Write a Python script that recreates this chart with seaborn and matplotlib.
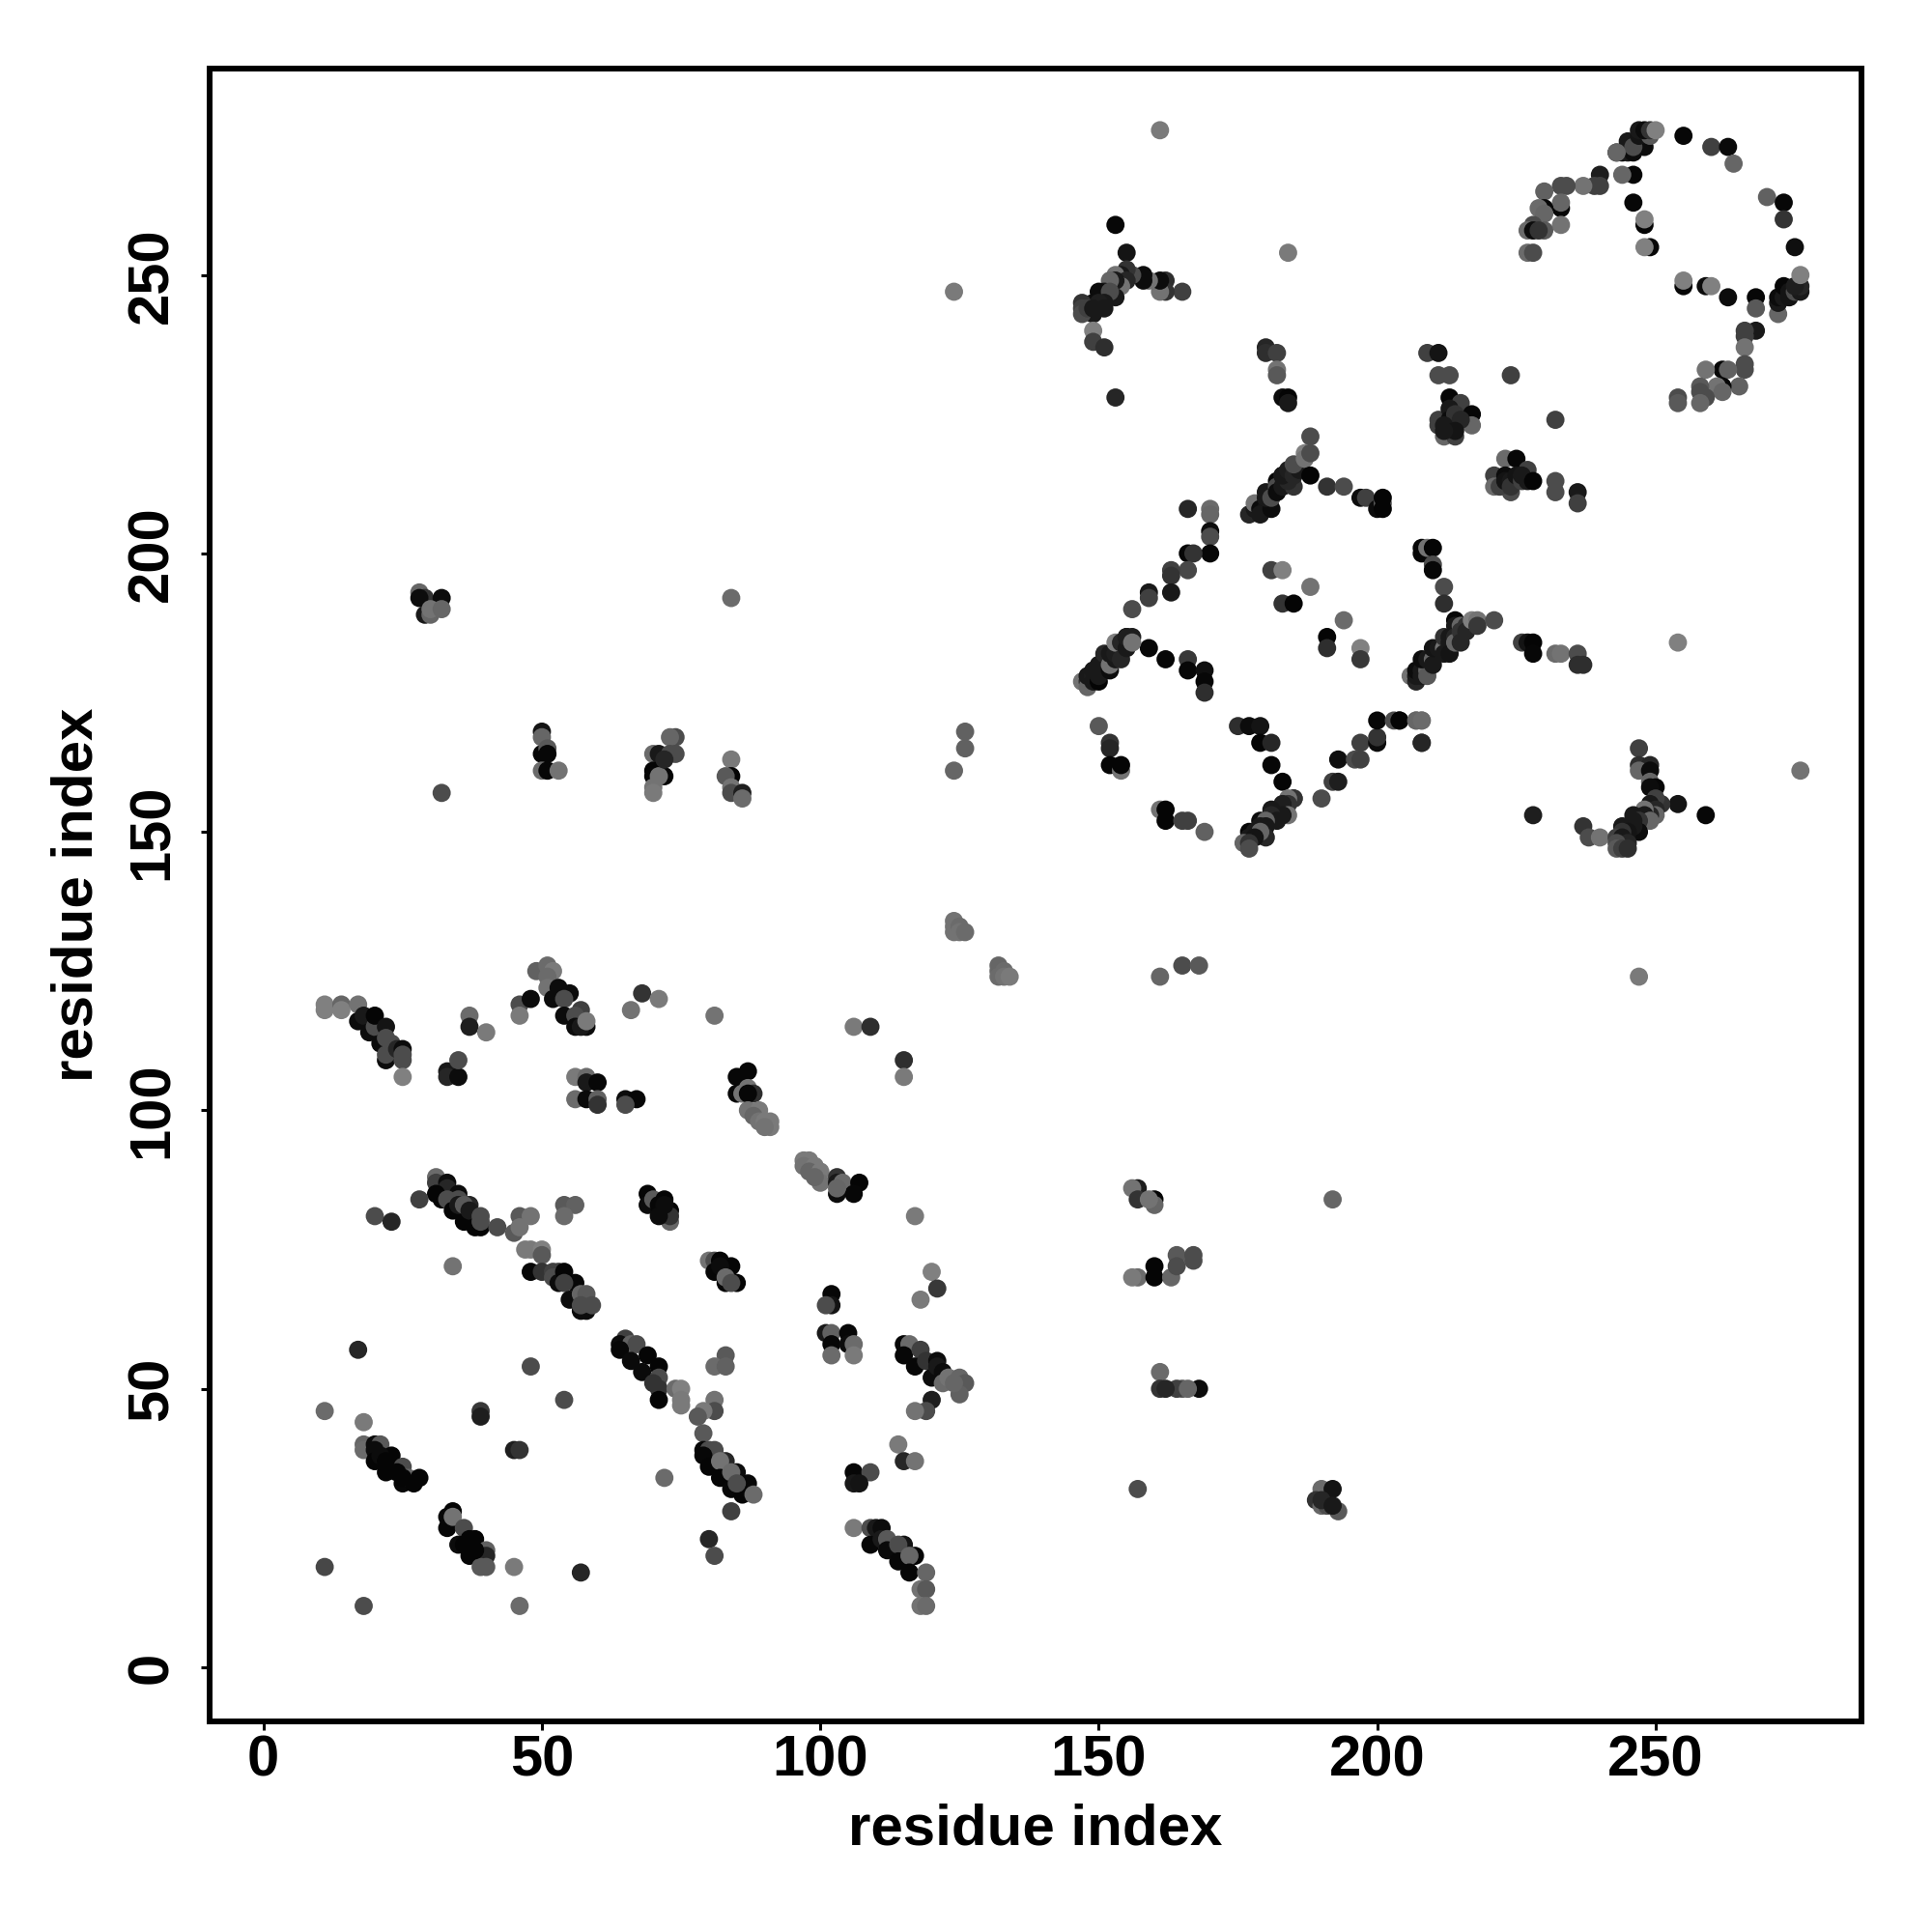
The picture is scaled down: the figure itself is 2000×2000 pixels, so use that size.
import matplotlib
matplotlib.use("Agg")
import matplotlib.pyplot as plt
import pandas as pd
import seaborn as sns

# contacts, grouped by region of the map
ring_x = [243,244,245,246,245,247,248,246,247,249,247,248,249,250,255,260,263,264,270,273,273,275,272,272,272,273,273,274,274,275,276,276,275,276,268,268,263,259,260,255,255,248,249,248,248,246,246,244,240,240,239,237,234,233,230,233,233,230,229,230,233,228,230,227,228,229,227,228]
ring_y = [272,272,272,272,274,274,273,273,275,275,276,276,276,276,275,273,273,270,264,263,260,255,243,245,246,246,248,246,247,247,247,248,248,250,246,244,246,248,248,248,249,259,255,255,260,263,268,268,268,266,266,266,266,266,265,262,263,262,262,261,259,259,258,258,258,258,254,254]
ring_s = [.05,.05,.1,.05,.1,.2,.05,.3,.08,.35,.1,.05,.2,.5,.03,.25,.04,.4,.38,.03,.2,.06,.4,.1,.05,.1,.03,.08,.08,.3,.1,.15,.12,.5,.03,.35,.05,.05,.5,.03,.5,.02,.03,.5,.5,.03,.03,.4,.12,.25,.25,.45,.3,.3,.38,.03,.4,.03,.42,.4,.45,.3,.35,.42,.05,.2,.42,.3]

ring_low_x = [268,266,266,266,266,266,265,262,263,259,262,261,262,258,259,258,258,254,254,243]
ring_low_y = [240,240,239,237,234,233,230,233,233,233,230,230,229,230,228,229,227,228,227,272]
ring_low_s = [.1,.25,.25,.45,.3,.3,.38,.03,.38,.45,.03,.45,.4,.35,.3,.3,.4,.3,.35,.4]

knot_x = [209,211,211,213,213,215,217,217,211,211,212,214,213,213,213,214,215,212,214,212,224,232]
knot_y = [236,236,232,232,228,227,225,223,224,223,221,221,226,224,223,225,224,223,222,222,232,224]
knot_s = [.25,.08,.3,.3,.03,.25,.03,.4,.25,.25,.4,.25,.1,.05,.1,.2,.15,.1,.08,.1,.25,.25]

block_x = [223,225,227,221,221,224,222,223,223,224,224,225,226,226,227,228,232,232,236,236]
block_y = [217,217,215,214,212,211,212,214,213,213,212,214,213,214,213,213,213,211,211,209]
block_s = [.42,.03,.25,.25,.42,.3,.25,.05,.08,.1,.2,.08,.25,.1,.1,.02,.3,.3,.1,.25]

arm_x = [208,208,209,210,210,210,212,212,206,207,207,207,208,208,209,209,208,209,210,210,210,211,212,212,212,213,213,213,214,214,214,214,215,215,215,216,216,217,218,218,221]
arm_y = [200,201,201,201,198,197,194,191,178,177,178,179,179,178,179,178,181,181,181,180,183,183,183,182,185,185,184,182,188,187,185,184,187,186,184,187,186,188,188,187,188]
arm_s = [.03,.03,.45,.02,.3,.03,.3,.18,.45,.15,.1,.05,.1,.1,.4,.35,.05,.1,.4,.1,.08,.1,.45,.1,.2,.1,.1,.08,.03,.1,.15,.4,.4,.2,.15,.2,.15,.5,.45,.22,.3]

right_x = [226,227,228,228,232,233,236,236,237,204,207,208,208,254,276,247,161,165,168]
right_y = [184,184,184,182,182,182,182,180,180,170,170,170,166,184,161,124,124,126,126]
right_s = [.25,.08,.02,.03,.42,.45,.3,.18,.18,.02,.4,.42,.15,.5,.45,.48,.4,.3,.35]

foot_x = [247,247,249,247,249,249,250,249,259,228,237,238,240,254,251,250,249,250,250,249,248,248,249,246,247,246,247,246,244,245,244,243,244,245,243,243,244,245]
foot_y = [165,162,162,161,161,159,158,158,153,153,151,149,149,155,155,156,155,154,153,153,154,153,152,153,152,152,150,151,151,150,150,149,149,148,148,147,147,147]
foot_s = [.25,.18,.15,.4,.05,.4,.03,.05,.03,.12,.2,.3,.45,.08,.2,.25,.1,.15,.4,.15,.45,.1,.4,.1,.2,.1,.05,.1,.1,.08,.2,.25,.1,.15,.3,.35,.25,.18]

hook_x = [153,155,184,165,162,162,161,161,159,158,158,156,155,154,153,155,154,153,152,153,151,150,152,151,149,150,151,149,147,147,147,148,149,149,149,151,153]
hook_y = [259,254,254,247,249,247,247,249,249,250,249,250,251,250,250,249,248,249,249,246,247,247,247,245,245,245,244,243,245,244,243,244,240,238,244,237,228]
hook_s = [.03,.08,.48,.25,.18,.2,.45,.05,.45,.05,.05,.3,.2,.1,.45,.15,.45,.1,.4,.1,.1,.05,.3,.1,.05,.12,.1,.1,.2,.25,.3,.25,.5,.25,.1,.18,.15]

stem_x = [180,180,182,182,182,183,184,184,188,191,194,197,198,200,201,201,201]
stem_y = [237,236,236,233,232,228,228,227,221,212,212,210,210,208,209,208,210]
stem_s = [.15,.18,.25,.45,.35,.05,.02,.1,.3,.2,.3,.05,.25,.05,.35,.02,.02]
stem2_x = [177,178,178,179,180,179,181,180,180,182,181,182,182,183,183,185,184,183,184,185,186,185,187,187,188,188]
stem2_y = [207,208,209,208,208,207,208,211,210,213,210,212,211,212,214,212,213,214,215,214,215,216,218,217,218,214]
stem2_s = [.15,.1,.45,.05,.08,.1,.05,.1,.1,.03,.3,.3,.05,.1,.1,.2,.15,.1,.12,.15,.1,.3,.5,.45,.3,.02]

arc_x = [166,170,170,170,170,170,166,167,166,163,163,163,159,159,156,159,162,166,166,169,169,169]
arc_y = [208,208,207,204,203,200,200,200,197,197,196,193,193,192,190,183,181,181,179,179,177,175]
arc_s = [.15,.42,.4,.05,.3,.03,.03,.2,.28,.25,.2,.1,.1,.25,.3,.03,.03,.22,.03,.06,.03,.18]
diag_x = [147,148,148,148,149,149,149,150,150,150,150,151,151,151,151,152,152,152,153,153,153,154,154,155,155,155,156,156]
diag_y = [177,177,176,178,178,177,179,177,179,180,178,179,180,181,182,179,180,182,181,182,184,184,181,183,185,185,185,184]
diag_s = [.45,.2,.4,.1,.12,.1,.1,.02,.1,.1,.1,.1,.1,.1,.15,.05,.45,.1,.1,.12,.5,.15,.15,.1,.12,.12,.12,.45]

mid_x = [181,183,188,183,185,194,191,191,197,197,150,152,152,152,154,154,161,162,162,165,166,169]
mid_y = [197,197,194,191,191,188,185,183,183,181,169,166,165,162,161,162,154,154,152,152,152,150]
mid_s = [.25,.5,.45,.2,.02,.42,.02,.18,.5,.22,.35,.2,.15,.02,.45,.02,.45,.02,.02,.25,.25,.38]

loop_x = [175,177,179,179,181,181,183,185,185,184,184,183,184,183,181,182,181,182,179,180,180,179,180,177,178,179,177,178,176,177,177]
loop_y = [169,169,169,166,166,162,159,156,156,156,155,155,153,153,154,153,153,152,152,152,151,151,149,150,150,150,149,149,148,148,147]
loop_s = [.18,.05,.08,.02,.15,.03,.02,.2,.2,.45,.2,.12,.45,.1,.1,.1,.15,.1,.05,.4,.1,.1,.15,.03,.1,.4,.1,.08,.4,.2,.3]

rise_x = [190,192,193,193,196,197,197,200,200,200,203,204,207,208,208]
rise_y = [156,159,159,163,163,163,166,166,167,170,170,170,170,170,166]
rise_s = [.3,.25,.12,.06,.3,.25,.25,.05,.2,.03,.3,.02,.4,.42,.15]

strand_a_x = [11,11,14,14,17,17,18,19,20,20,21,22,22,23,22,22,24,25,25,25,25]
strand_a_y = [119,118,119,118,119,116,117,114,115,117,112,115,113,112,109,110,111,111,109,110,106]
strand_a_s = [.5,.5,.4,.5,.45,.05,.1,.05,.3,.02,.05,.08,.3,.3,.05,.3,.15,.05,.3,.3,.5]

strand_b_x = [33,33,35,35,37,37,40,46,46,48,49,51,52,51,51,53,55,52,54,57,54,56,56,58,57,58,68,71,66,81,106,109,115,115]
strand_b_y = [107,106,106,109,117,115,114,119,117,120,125,126,125,124,122,122,121,120,120,118,117,117,115,115,115,116,121,120,118,117,115,115,109,106]
strand_b_s = [.1,.15,.05,.3,.42,.12,.48,.3,.48,.05,.38,.42,.48,.42,.45,.05,.05,.05,.3,.25,.05,.3,.05,.05,.1,.48,.2,.48,.45,.45,.48,.18,.18,.48]

pairs_x = [56,58,58,60,56,58,60,60,65,67,65,85,87,85,87,86,88,87,87,89,88,89,90,91,91,90]
pairs_y = [106,106,105,105,102,102,102,101,102,102,101,106,107,103,104,103,103,103,100,100,99,98,98,98,97,97]
pairs_s = [.48,.42,.1,.03,.42,.04,.38,.2,.05,.03,.3,.03,.03,.03,.45,.45,.18,.03,.45,.48,.4,.45,.48,.48,.48,.45]

mid_left_x = [31,31,33,33,31,32,35,33,36,34,35,37,35,36,37,38,39,39,39,28,20,23,42,45,46,48,46,54,56,54,34,47,48,50,50]
mid_left_y = [88,87,87,86,85,84,85,84,80,82,84,83,83,83,82,79,79,81,80,84,81,80,79,78,81,81,79,83,83,81,72,75,75,75,74]
mid_left_s = [.42,.25,.05,.15,.02,.02,.05,.3,.02,.02,.3,.15,.1,.35,.1,.02,.02,.3,.3,.25,.3,.15,.3,.35,.35,.45,.45,.35,.38,.42,.45,.48,.48,.5,.35]

row_x = [48,50,52,53,52,53,56,54,54,55,57,58,57,58,59,57]
row_y = [71,71,71,71,70,69,69,71,69,66,67,67,64,64,65,65]
row_s = [.03,.2,.25,.25,.3,.05,.03,.02,.25,.05,.4,.35,.05,.05,.3,.3]

tuft_x = [69,69,70,72,71,73,73,73,71,72,80,81,82,84,81,82,83,85,83,84]
tuft_y = [85,83,84,84,83,82,80,81,81,83,73,73,73,72,71,72,69,69,70,69]
tuft_s = [.02,.05,.35,.02,.03,.02,.4,.2,.05,.05,.45,.3,.02,.02,.03,.05,.03,.02,.42,.3]

run_x = [97,98,97,99,98,100,100,99,103,103,104,107,103,106,103]
run_y = [91,91,90,90,89,89,87,88,88,87,87,87,85,85,86]
run_s = [.48,.48,.45,.48,.4,.48,.45,.4,.2,.1,.42,.02,.05,.03,.4]

gap_x = [124,124,124,125,125,126,132,132,132,133,133,134,117,120,121,118,124,126,126,124]
gap_y = [134,133,132,133,132,132,126,125,124,125,124,124,81,71,68,66,247,168,165,161]
gap_s = [.45,.45,.45,.42,.45,.42,.4,.4,.42,.42,.45,.48,.48,.5,.22,.48,.48,.38,.38,.4]

far_x = [157,156,157,160,160,159,157,156,160,160,163,164,167,167,164,161,161,165,168,164,162,166,157,192,161]
far_y = [86,86,84,84,83,84,70,70,72,70,70,74,74,73,72,53,50,50,50,50,50,50,32,84,276]
far_s = [.12,.45,.2,.02,.4,.45,.42,.48,.02,.02,.4,.35,.3,.3,.3,.42,.2,.35,.05,.25,.15,.4,.3,.4,.48]
tail_x = [190,192,189,190,191,193,190,192]
tail_y = [32,32,30,29,29,28,30,29]
tail_s = [.42,.08,.2,.4,.3,.35,.15,.1]

low_x = [17,48,54,11,18,39,39,45,46,18,18,20,21,20,20,23,21,22,22,25,25,26,27,28,24,25]
low_y = [57,54,48,46,44,46,45,39,39,40,39,40,40,39,37,38,38,35,37,36,33,34,33,34,35,34]
low_s = [.15,.3,.3,.42,.48,.22,.12,.12,.2,.4,.42,.05,.35,.05,.02,.02,.05,.02,.02,.3,.03,.4,.02,.02,.02,.02]

low_b_x = [34,33,33,34,36,35,37,38,37,40,40,39,40,38,36,45,11,18,46,57,72]
low_b_y = [28,27,25,27,25,22,23,23,20,21,20,18,18,21,22,18,18,11,11,17,34]
low_b_s = [.02,.03,.03,.45,.3,.05,.02,.02,.02,.38,.15,.35,.35,.02,.02,.48,.28,.3,.42,.15,.42]

third_x = [65,64,66,67,64,69,66,71,68,71,70,71,71,74,75,75,75,83,81,83,81,81,79,78,79]
third_y = [59,58,58,58,57,56,55,54,53,52,51,50,48,50,50,48,47,56,54,54,48,46,46,45,42]
third_s = [.25,.05,.38,.3,.03,.02,.04,.02,.04,.3,.2,.2,.02,.42,.5,.48,.48,.35,.42,.38,.45,.3,.48,.35,.35]

fourth_x = [79,80,81,79,80,83,82,85,82,84,87,84,86,88,85,84,80,81]
fourth_y = [39,39,39,38,36,37,37,35,34,35,33,32,31,31,33,28,23,20]
fourth_s = [.03,.3,.3,.03,.02,.15,.45,.05,.02,.42,.03,.03,.02,.42,.3,.25,.15,.3]

col_x = [102,102,101,101,102,105,102,105,106,102,106]
col_y = [67,65,65,60,60,60,58,58,58,56,56]
col_s = [.03,.08,.3,.1,.38,.03,.03,.05,.42,.42,.48]

fifth_x = [115,116,115,118,117,119,121,120,121,122,122,123,125,126,125,124,120,119,117,114,115,117,106,109,106,107]
fifth_y = [58,58,56,57,54,55,55,52,54,53,51,52,52,51,49,51,48,46,46,40,37,37,35,35,33,33]
fifth_s = [.03,.42,.03,.25,.03,.2,.05,.05,.1,.05,.42,.45,.4,.35,.38,.4,.12,.3,.45,.48,.15,.45,.03,.3,.1,.08]

sixth_x = [106,109,110,111,109,111,112,115,112,114,114,117,116,116,119,118,119,118,119]
sixth_y = [25,25,25,25,22,23,23,22,21,22,19,20,20,17,17,14,14,11,11]
sixth_s = [.48,.3,.1,.05,.03,.1,.35,.08,.04,.3,.03,.02,.4,.03,.4,.45,.35,.45,.42]

upper_x = [28,29,32,28,29,30,30,32,84,32,50,50,50,51,51,50,51,53]
upper_y = [193,192,192,192,189,189,190,190,192,157,168,167,164,165,164,161,161,161]
upper_s = [.4,.2,.05,.05,.1,.4,.45,.4,.42,.3,.08,.4,.03,.35,.03,.42,.03,.45]
upper_b_x = [74,73,70,71,73,74,70,70,72,71,70,70,72,84,84,83,84,84,86,86]
upper_b_y = [167,167,164,164,164,164,161,160,160,160,158,157,163,163,160,160,158,157,157,156]
upper_b_s = [.3,.4,.42,.1,.3,.3,.02,.03,.02,.45,.45,.48,.15,.48,.02,.35,.45,.3,.12,.42]

groups = [(ring_x, ring_y, ring_s), (ring_low_x, ring_low_y, ring_low_s), (knot_x, knot_y, knot_s),
          (block_x, block_y, block_s), (arm_x, arm_y, arm_s), (right_x, right_y, right_s),
          (foot_x, foot_y, foot_s), (hook_x, hook_y, hook_s), (stem_x, stem_y, stem_s),
          (stem2_x, stem2_y, stem2_s), (arc_x, arc_y, arc_s), (diag_x, diag_y, diag_s),
          (mid_x, mid_y, mid_s), (loop_x, loop_y, loop_s), (rise_x, rise_y, rise_s),
          (strand_a_x, strand_a_y, strand_a_s), (strand_b_x, strand_b_y, strand_b_s),
          (pairs_x, pairs_y, pairs_s), (mid_left_x, mid_left_y, mid_left_s), (row_x, row_y, row_s),
          (tuft_x, tuft_y, tuft_s), (run_x, run_y, run_s), (gap_x, gap_y, gap_s), (far_x, far_y, far_s),
          (tail_x, tail_y, tail_s), (low_x, low_y, low_s), (low_b_x, low_b_y, low_b_s),
          (third_x, third_y, third_s), (fourth_x, fourth_y, fourth_s), (col_x, col_y, col_s),
          (fifth_x, fifth_y, fifth_s), (sixth_x, sixth_y, sixth_s), (upper_x, upper_y, upper_s),
          (upper_b_x, upper_b_y, upper_b_s)]

frames = []
for n, (a, b, c) in enumerate(groups):
    if not (len(a) == len(b) == len(c)):
        print("length problem in group", n, len(a), len(b), len(c))
    m = min(len(a), len(b), len(c))
    frames.append(pd.DataFrame({"i": a[:m], "j": b[:m], "shade": c[:m]}))
df = pd.concat(frames, ignore_index=True)

tick_vals = [0, 50, 100, 150, 200, 250]

sns.set_theme(style="white")
plt.rcParams["font.family"] = ["Liberation Sans", "DejaVu Sans"]

fig = plt.figure(figsize=(10, 10), dpi=200)
ax = fig.add_axes([0.1084, 0.1091, 0.8552, 0.8552])
sns.scatterplot(data=df, x="i", y="j", hue="shade", palette="gray", hue_norm=(0, 1),
                s=46, linewidth=0, edgecolor="none", legend=False, ax=ax)

ax.set_xlim(-9.7, 287)
ax.set_ylim(-9.7, 287)
ax.set_xticks(tick_vals)
ax.set_yticks(tick_vals)
ax.tick_params(axis="both", length=3.3, width=1.1, color="black", left=True, bottom=True,
               labelsize=21.5, labelcolor="black")
ax.tick_params(axis="x", pad=1.6)
ax.tick_params(axis="y", pad=8)
for lab in ax.get_xticklabels():
    lab.set_fontweight("bold")
for lab in ax.get_yticklabels():
    lab.set_fontweight("bold")
    lab.set_rotation(90)
    lab.set_verticalalignment("center")
for side in ax.spines.values():
    side.set_color("black")
    side.set_linewidth(2.15)

ax.set_xlabel("residue index", fontsize=21.6, fontweight="bold", color="black", va="center")
ax.set_ylabel("residue index", fontsize=21.6, fontweight="bold", color="black", va="center")
ax.xaxis.set_label_coords(0.5, -0.0655)
ax.yaxis.set_label_coords(-0.0798, 0.5)

fig.savefig("out.png", dpi=200)
